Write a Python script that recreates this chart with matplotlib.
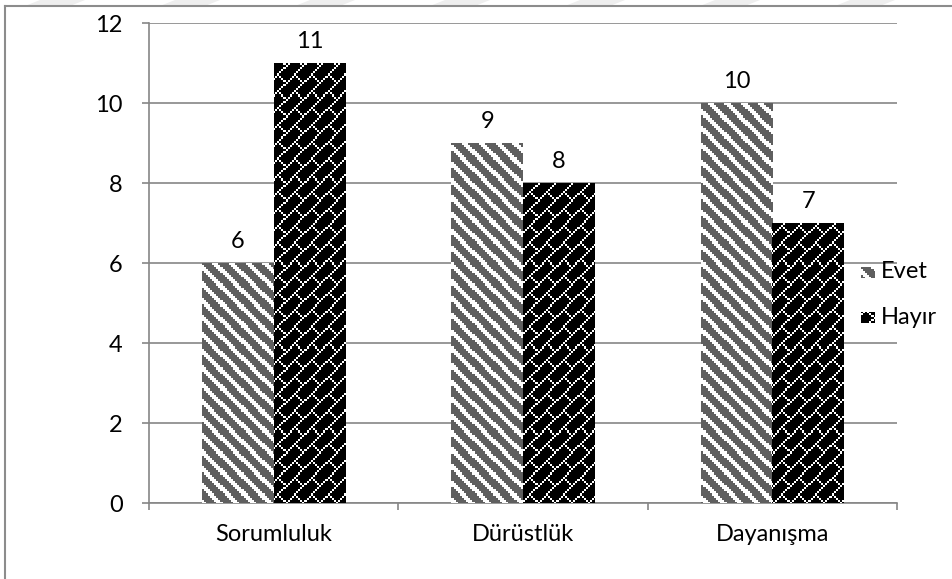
import numpy as np
import matplotlib
matplotlib.use("Agg")
import matplotlib.pyplot as plt
from matplotlib.patches import Polygon

plt.rcParams['font.family'] = ['Lato', 'DejaVu Sans']

categories = ["Sorumluluk", "Dürüstlük", "Dayanışma"]
evet = [6, 9, 10]
hayir = [11, 8, 7]
series_names = ["Evet", "Hayır"]

W_PX, H_PX = 953, 579
FS = 17
GRID = "#868686"
GRAY = np.array([0x5f, 0x5f, 0x5f]) / 255.0
BLACK = np.array([0.0, 0.0, 0.0])
WHITE = np.array([1.0, 1.0, 1.0])
CELL = 2.1  # screen pixels per pattern pixel


def stripes(u, v):
    # wide downward diagonal
    return ((u - v) % 8) < 3


def brick(u, v):
    # diagonal brick
    a, b = u % 8, v % 8
    seg = ((a == 5) & (b == 4)) | ((a == 6) & (b == 5)) | ((a == 7) & (b == 6))
    return ((a + b) == 7) | seg


def pattern_rgb(px0, py0, w, h, func, base):
    px = px0 + np.arange(w) + 0.5
    py = py0 + np.arange(h) + 0.5
    X, Y = np.meshgrid(px, py)
    u = np.floor(X / CELL).astype(int)
    v = np.floor(Y / CELL).astype(int)
    mask = func(u, v)
    img = np.empty((h, w, 3))
    img[:] = base
    img[mask] = WHITE
    return img


fig = plt.figure(figsize=(W_PX / 100, H_PX / 100), dpi=100)
ax = fig.add_axes([149 / W_PX, 1 - 503 / H_PX, 748 / W_PX, 480 / H_PX])

x = np.arange(len(categories))
bw = 0.287
ax.set_xlim(-0.5, len(categories) - 0.5)
ax.set_ylim(0, 12)

bars_e = ax.bar(x - bw / 2, evet, bw, color=GRAY, edgecolor="none", zorder=2)
bars_h = ax.bar(x + bw / 2, hayir, bw, color=BLACK, edgecolor="none", zorder=2)

# fill each bar with its pattern, clipped to the bar
for bars, func, base in [(bars_e, stripes, GRAY), (bars_h, brick, BLACK)]:
    for rect in bars:
        x0, y0 = rect.get_x(), rect.get_y()
        x1, y1 = x0 + rect.get_width(), y0 + rect.get_height()
        (dx0, dy0), (dx1, dy1) = ax.transData.transform([(x0, y0), (x1, y1)])
        w = max(int(round(dx1 - dx0)), 1)
        h = max(int(round(dy1 - dy0)), 1)
        img = pattern_rgb(int(round(dx0)), int(round(H_PX - dy1)), w, h, func, base)
        im = ax.imshow(img, extent=(x0, x1, y0, y1), origin="upper",
                       interpolation="nearest", aspect="auto", zorder=3)
        im.set_clip_path(rect)

for bars, vals in [(bars_e, evet), (bars_h, hayir)]:
    for rect, val in zip(bars, vals):
        ax.annotate(str(val), (rect.get_x() + rect.get_width() / 2, val),
                    xytext=(0, 8), textcoords="offset points",
                    ha="center", va="bottom", fontsize=FS)

ax.set_yticks(range(0, 13, 2))
ax.yaxis.grid(True, color=GRID, linewidth=1.2, zorder=0)
ax.set_axisbelow(True)
ax.tick_params(axis="y", length=5, width=1.2, color=GRID, pad=14, labelsize=FS)

ax.set_xticks(np.arange(len(categories) + 1) - 0.5)
ax.set_xticklabels([])
ax.set_xticks(x, minor=True)
ax.set_xticklabels(categories, minor=True)
ax.tick_params(axis="x", which="major", length=5, width=1.2, color=GRID)
ax.tick_params(axis="x", which="minor", length=0, pad=15, labelsize=FS)

for side in ["top", "right"]:
    ax.spines[side].set_visible(False)
for side in ["left", "bottom"]:
    ax.spines[side].set_color(GRID)
    ax.spines[side].set_linewidth(1.2)

# legend swatches and labels
for name, func, base, top in [(series_names[0], stripes, GRAY, 267),
                              (series_names[1], brick, BLACK, 312)]:
    sw = pattern_rgb(861, top, 14, 11, func, base)
    fig.figimage(sw, xo=861, yo=H_PX - top - 11, origin="upper", zorder=5)
    fig.text(881 / W_PX, 1 - (top + 5) / H_PX, name, fontsize=FS,
             ha="left", va="center")

# chart frame
fig.add_artist(plt.Line2D([5 / W_PX, 1], [1 - 6 / H_PX] * 2, color="#8c8c8c",
                          linewidth=1.5, transform=fig.transFigure))
fig.add_artist(plt.Line2D([5 / W_PX] * 2, [0, 1 - 6 / H_PX], color="#8c8c8c",
                          linewidth=1.5, transform=fig.transFigure))

# faint page marks above the frame
for left in range(25, 953, 135):
    pts = [(left, 6), (left + 45, 6), (left + 60, 0), (left + 15, 0)]
    fig.add_artist(Polygon([(px / W_PX, 1 - py / H_PX) for px, py in pts],
                           closed=True, facecolor="#eeeeee", edgecolor="none",
                           transform=fig.transFigure, zorder=-1))

fig.savefig("out.png", dpi=100)
